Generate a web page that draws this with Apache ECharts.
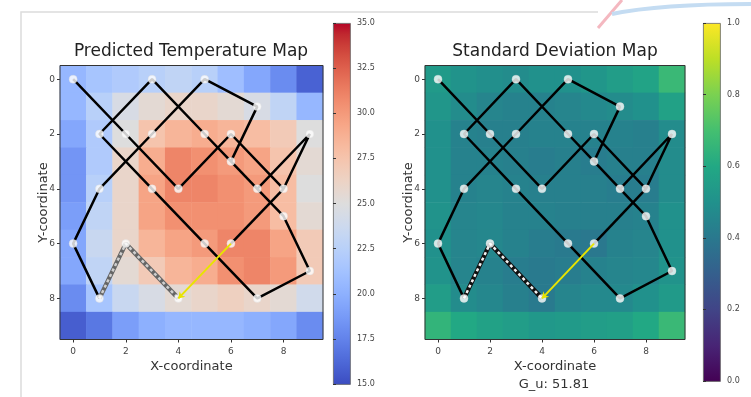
<!DOCTYPE html>
<html>
<head>
<meta charset="utf-8">
<script src="https://cdn.jsdelivr.net/npm/echarts@6/dist/echarts.min.js"></script>
<style>
    html, body { margin: 0; padding: 0; background: #fff; }
    #chart { width: 751px; height: 397px; }
</style>
</head>
<body>
<div id="chart"></div>
<script>
    // grid cells 0..9 on both axes
    var cells = ['0', '1', '2', '3', '4', '5', '6', '7', '8', '9'];

    // predicted temperature, one row per y (0 = top)
    var tempRows = [
        [20.5, 21.5, 22.0, 22.5, 23.0, 22.5, 21.0, 19.5, 18.0, 16.0],
        [20.5, 22.5, 24.5, 25.5, 26.0, 26.0, 25.5, 24.5, 23.0, 20.5],
        [19.5, 22.0, 25.0, 27.5, 28.5, 29.0, 28.5, 28.0, 27.0, 25.0],
        [18.5, 22.0, 26.0, 29.0, 31.0, 30.5, 30.0, 29.5, 27.5, 25.5],
        [18.5, 22.5, 26.0, 29.5, 31.0, 31.0, 30.5, 30.0, 28.0, 25.0],
        [19.0, 23.0, 26.0, 29.5, 30.5, 30.5, 30.5, 30.0, 28.0, 25.5],
        [19.5, 23.5, 26.0, 28.5, 29.5, 30.0, 31.0, 31.0, 29.5, 27.0],
        [19.5, 23.0, 25.5, 27.0, 28.5, 29.0, 30.5, 31.0, 30.0, 27.0],
        [18.0, 21.5, 23.5, 24.5, 25.5, 26.0, 26.5, 26.0, 25.5, 24.0],
        [15.8, 17.0, 19.0, 20.0, 20.5, 20.5, 20.5, 20.0, 19.5, 18.0]
    ];

    // standard deviation, same layout
    var stdRows = [
        [0.54, 0.51, 0.49, 0.48, 0.50, 0.50, 0.52, 0.55, 0.58, 0.67],
        [0.52, 0.48, 0.45, 0.44, 0.44, 0.45, 0.47, 0.48, 0.50, 0.57],
        [0.50, 0.44, 0.43, 0.43, 0.44, 0.44, 0.44, 0.44, 0.43, 0.48],
        [0.50, 0.44, 0.44, 0.43, 0.42, 0.43, 0.42, 0.43, 0.43, 0.48],
        [0.50, 0.44, 0.45, 0.44, 0.43, 0.43, 0.43, 0.42, 0.42, 0.48],
        [0.51, 0.45, 0.46, 0.44, 0.44, 0.43, 0.43, 0.43, 0.44, 0.50],
        [0.50, 0.45, 0.46, 0.44, 0.42, 0.41, 0.40, 0.44, 0.45, 0.50],
        [0.51, 0.45, 0.44, 0.42, 0.41, 0.42, 0.44, 0.45, 0.46, 0.51],
        [0.55, 0.48, 0.46, 0.43, 0.41, 0.45, 0.47, 0.47, 0.50, 0.54],
        [0.65, 0.60, 0.57, 0.55, 0.53, 0.54, 0.55, 0.56, 0.60, 0.67]
    ];

    // sample locations [x, y]
    var samplePoints = [
        [0, 0], [3, 0], [5, 0], [7, 1], [1, 2], [2, 2], [3, 2], [5, 2], [6, 2], [9, 2],
        [6, 3], [1, 4], [3, 4], [4, 4], [7, 4], [8, 4], [8, 5], [0, 6], [2, 6], [5, 6],
        [6, 6], [9, 7], [1, 8], [4, 8], [7, 8]
    ];

    // planned route (solid black)
    var plannedPath = [
        [0, 0], [2, 2], [4, 4], [6, 2], [8, 4], [9, 2], [7, 4], [8, 5], [9, 7], [7, 8],
        [5, 6], [3, 4], [1, 2], [3, 0], [5, 2], [6, 3], [7, 1], [5, 0], [3, 2], [1, 4],
        [0, 6], [1, 8]
    ];
    var extraLinks = [
        [[6, 3], [7, 4]],
        [[6, 6], [8, 4]]
    ];
    // already travelled (dashed) and current move (yellow)
    var visitedPath = [[1, 8], [2, 6], [4, 8]];
    var currentStep = [[6, 6], [4, 8]];

    var tempRange = [15, 35];
    var stdRange = [0, 1];

    var coolwarm = ['#3b4cc0', '#445acc', '#4d68d7', '#5775e1', '#6282ea', '#6c8ef1', '#779af7', '#82a5fb',
        '#8db0fe', '#98b9ff', '#a3c2ff', '#aec9fd', '#b8d0f9', '#c2d5f4', '#ccd9ee', '#d5dbe6',
        '#dddddd', '#e5d8d1', '#ecd3c5', '#f1ccb9', '#f5c4ad', '#f7bba0', '#f7b194', '#f7a687',
        '#f49a7b', '#f18d6f', '#ec7f63', '#e57058', '#de604d', '#d55042', '#cb3e38', '#c0282f', '#b40426'];
    var viridis = ['#440154', '#482475', '#414487', '#355f8d', '#2a788e', '#21918c', '#22a884',
        '#44bf70', '#7ad151', '#bddf26', '#fde725'];

    function toCells(rows) {
        var out = [];
        rows.forEach(function (row, y) {
            row.forEach(function (v, x) { out.push([x, y, v]); });
        });
        return out;
    }

    function gradientOf(colors) {
        // top of colorbar = max
        var stops = colors.map(function (c, i) {
            return {offset: 1 - i / (colors.length - 1), color: c};
        });
        return {type: 'linear', x: 0, y: 0, x2: 0, y2: 1, colorStops: stops};
    }

    var font = 'DejaVu Sans';
    var plots = [
        {left: 60, top: 65.5, width: 263, height: 274},
        {left: 425, top: 65.5, width: 260, height: 274}
    ];
    var bars = [
        {left: 333, top: 23, width: 17, height: 361},
        {left: 703, top: 23, width: 17, height: 358}
    ];

    var grids = [], xAxes = [], yAxes = [], series = [];

    plots.forEach(function (p, g) {
        grids.push({left: p.left, top: p.top, width: p.width, height: p.height,
            show: true, borderColor: '#333', borderWidth: 1, backgroundColor: 'transparent', z: 5});
        xAxes.push({
            type: 'category', gridIndex: g, data: cells,
            name: 'X-coordinate', nameLocation: 'middle', nameGap: 21, nameMoveOverlap: false,
            nameTextStyle: {fontSize: 13, color: '#333', fontFamily: font},
            axisLine: {show: false},
            axisTick: {show: true, alignWithLabel: true, interval: 1, length: 3, lineStyle: {color: '#333'}},
            axisLabel: {interval: 1, fontSize: 9, color: '#444', margin: 8, fontFamily: font},
            splitLine: {show: false}
        });
        yAxes.push({
            type: 'category', gridIndex: g, data: cells, inverse: true,
            name: 'Y-coordinate', nameLocation: 'middle', nameGap: 10, nameRotate: 90, nameMoveOverlap: false,
            nameTextStyle: {fontSize: 13, color: '#333', fontFamily: font},
            axisLine: {show: false},
            axisTick: {show: true, alignWithLabel: true, interval: 1, length: 3, lineStyle: {color: '#333'}},
            axisLabel: {interval: 1, fontSize: 9, color: '#444', margin: 5, fontFamily: font},
            splitLine: {show: false}
        });
    });

    // colorbar axes
    bars.forEach(function (b, i) {
        var g = grids.length;
        var range = i === 0 ? tempRange : stdRange;
        grids.push({left: b.left, top: b.top, width: b.width, height: b.height});
        xAxes.push({type: 'value', gridIndex: g, show: false, min: 0, max: 1});
        yAxes.push({
            type: 'value', gridIndex: g, position: 'right',
            min: range[0], max: range[1], interval: i === 0 ? 2.5 : 0.2,
            axisLine: {show: false}, splitLine: {show: false},
            axisTick: {show: true, length: 3, lineStyle: {color: '#333'}},
            axisLabel: {fontSize: 8, color: '#444', margin: 7, fontFamily: font,
                formatter: function (v) { return v.toFixed(1); }}
        });
    });

    series.push({type: 'heatmap', xAxisIndex: 0, yAxisIndex: 0, data: toCells(tempRows), z: 2,
        emphasis: {disabled: true}});
    series.push({type: 'heatmap', xAxisIndex: 1, yAxisIndex: 1, data: toCells(stdRows), z: 2,
        emphasis: {disabled: true}});

    plots.forEach(function (p, g) {
        series.push({type: 'line', xAxisIndex: g, yAxisIndex: g, data: plannedPath, symbol: 'none',
            lineStyle: {color: '#000', width: 2.5}, z: 6});
        extraLinks.forEach(function (seg) {
            series.push({type: 'line', xAxisIndex: g, yAxisIndex: g, data: seg, symbol: 'none',
                lineStyle: {color: '#000', width: 2.5}, z: 6});
        });
        series.push({type: 'line', xAxisIndex: g, yAxisIndex: g, data: visitedPath, symbol: 'none',
            lineStyle: {color: g === 0 ? '#666' : '#111', width: 4.5}, z: 6});
        series.push({type: 'line', xAxisIndex: g, yAxisIndex: g, data: visitedPath, symbol: 'none',
            lineStyle: {color: g === 0 ? '#cfcfcf' : '#f2f2f2', width: 2.5, type: [3, 3]}, z: 6});
        series.push({type: 'scatter', xAxisIndex: g, yAxisIndex: g, data: samplePoints,
            symbol: 'circle', symbolSize: 8, itemStyle: {color: '#fff', borderColor: '#ddd', borderWidth: 0.5},
            z: 7, emphasis: {disabled: true}});
        series.push({type: 'lines', coordinateSystem: 'cartesian2d', xAxisIndex: g, yAxisIndex: g,
            data: [{coords: currentStep}], symbol: ['none', 'arrow'], symbolSize: 6,
            lineStyle: {color: '#e8e400', width: 2, opacity: 1}, z: 8});
    });

    var option = {
        backgroundColor: '#fff',
        animation: false,
        title: [
            {text: 'Predicted Temperature Map', left: 191, top: 43, textAlign: 'center', padding: 0,
                textStyle: {fontSize: 17, fontWeight: 'normal', color: '#222', fontFamily: font}},
            {text: 'Standard Deviation Map', left: 555, top: 43, textAlign: 'center', padding: 0,
                textStyle: {fontSize: 17, fontWeight: 'normal', color: '#222', fontFamily: font}},
            {text: 'G_u: 51.81', left: 554, top: 378, textAlign: 'center', padding: 0,
                textStyle: {fontSize: 13, fontWeight: 'normal', color: '#333', fontFamily: font}}
        ],
        grid: grids,
        xAxis: xAxes,
        yAxis: yAxes,
        visualMap: [
            {show: false, seriesIndex: 0, dimension: 2, min: tempRange[0], max: tempRange[1],
                inRange: {color: coolwarm}},
            {show: false, seriesIndex: 1, dimension: 2, min: stdRange[0], max: stdRange[1],
                inRange: {color: viridis}}
        ],
        graphic: [
            {type: 'rect', left: bars[0].left, top: bars[0].top, z: -1,
                shape: {width: bars[0].width, height: bars[0].height},
                style: {fill: gradientOf(coolwarm), stroke: '#666', lineWidth: 0.8}},
            {type: 'rect', left: bars[1].left, top: bars[1].top, z: -1,
                shape: {width: bars[1].width, height: bars[1].height},
                style: {fill: gradientOf(viridis), stroke: '#666', lineWidth: 0.8}},
            // faint page decoration at the top
            {type: 'polyline', silent: true, shape: {points: [[21, 397], [21, 12], [598, 12]]},
                style: {fill: null, stroke: '#dcdcdc', lineWidth: 1.5}},
            {type: 'line', silent: true, shape: {x1: 598, y1: 28, x2: 622, y2: 0},
                style: {stroke: '#f4b8c0', lineWidth: 3}},
            {type: 'bezierCurve', silent: true, shape: {x1: 612, y1: 14, cpx1: 660, cpy1: 4, x2: 751, y2: 4},
                style: {fill: null, stroke: '#c4dcf2', lineWidth: 4}}
        ],
        series: series
    };

    var chart = echarts.init(document.getElementById('chart'));
    chart.setOption(option);
</script>
</body>
</html>
